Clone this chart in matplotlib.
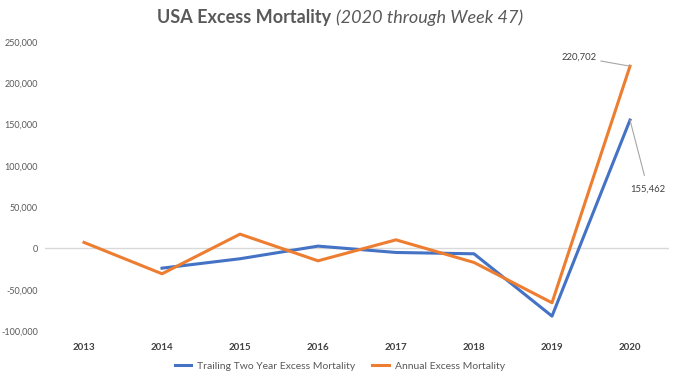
import matplotlib
matplotlib.use("Agg")
import matplotlib.pyplot as plt
from matplotlib.lines import Line2D

years = ["2013", "2014", "2015", "2016", "2017", "2018", "2019", "2020"]
annual = [7300, -30700, 17300, -15000, 10400, -17000, -65800, 220702]
trailing = [None, -23900, -12500, 2800, -4900, -6500, -82000, 155462]

yticks = [-100000, -50000, 0, 50000, 100000, 150000, 200000, 250000]
ytick_labels = ["-100,000", "-50,000", "0", "50,000", "100,000", "150,000", "200,000", "250,000"]

BLUE = "#4472C4"
ORANGE = "#ED7D31"
GRAY = "#595959"

plt.rcParams['font.family'] = ['Lato', 'DejaVu Sans']

fig = plt.figure(figsize=(6.8, 3.81), dpi=100)
ax = fig.add_axes([45/680, 1-331/381, 624/680, (331-42)/381])

x = list(range(len(years)))
tx = [i for i, v in zip(x, trailing) if v is not None]
tv = [v for v in trailing if v is not None]

ax.axhline(0, color="#D9D9D9", lw=1, zorder=1)
ax.plot(tx, tv, color=BLUE, lw=2.2, solid_joinstyle="round", zorder=3)
ax.plot(x, annual, color=ORANGE, lw=2.2, solid_joinstyle="round", zorder=3)

ax.set_xlim(-0.5, len(years) - 0.5)
ax.set_ylim(-100000, 250000)
ax.set_yticks(yticks)
ax.set_yticklabels(ytick_labels)
ax.set_xticks(x)
ax.set_xticklabels(years, fontweight="bold")
for s in ax.spines.values():
    s.set_visible(False)
ax.tick_params(axis="y", length=0, labelsize=6.5, colors=GRAY, pad=5)
ax.tick_params(axis="x", length=0, labelsize=7, colors="#404040", pad=9)

# data labels with leader lines
ax.annotate(f"{annual[-1]:,}", xy=(x[-1], annual[-1]), xycoords="data",
            xytext=(-24, 6.5), textcoords="offset points", ha="right", va="center",
            fontsize=6.8, color="#404040",
            arrowprops=dict(arrowstyle="-", color="#A6A6A6", lw=0.8, shrinkA=1, shrinkB=0))
ax.annotate(f"{trailing[-1]:,}", xy=(x[-1], trailing[-1]), xycoords="data",
            xytext=(13, -50), textcoords="offset points", ha="center", va="center",
            fontsize=6.8, color="#404040",
            arrowprops=dict(arrowstyle="-", color="#A6A6A6", lw=0.8, shrinkA=5, shrinkB=0))

# title in two styles
fig.canvas.draw()
r = fig.canvas.get_renderer()
t1 = fig.text(0, 1-18/381, "USA Excess Mortality ", fontsize=13, fontweight="bold",
              color=GRAY, va="center", ha="left")
t2 = fig.text(0, 1-18/381, "(2020 through Week 47)", fontsize=13, fontstyle="italic",
              color=GRAY, va="center", ha="left")
w1 = t1.get_window_extent(r).width
w2 = t2.get_window_extent(r).width
start = (680 - w1 - w2) / 2
t1.set_x(start / 680)
t2.set_x((start + w1) / 680)

handles = [Line2D([], [], color=BLUE, lw=2.2), Line2D([], [], color=ORANGE, lw=2.2)]
leg = fig.legend(handles, ["Trailing Two Year Excess Mortality", "Annual Excess Mortality"],
                 loc="center", bbox_to_anchor=(0.5, 1-366/381), ncol=2, frameon=False,
                 fontsize=7.5, handlelength=1.6, columnspacing=1.6, handletextpad=0.6)
for t in leg.get_texts():
    t.set_color(GRAY)

fig.savefig("out.png", dpi=100)
